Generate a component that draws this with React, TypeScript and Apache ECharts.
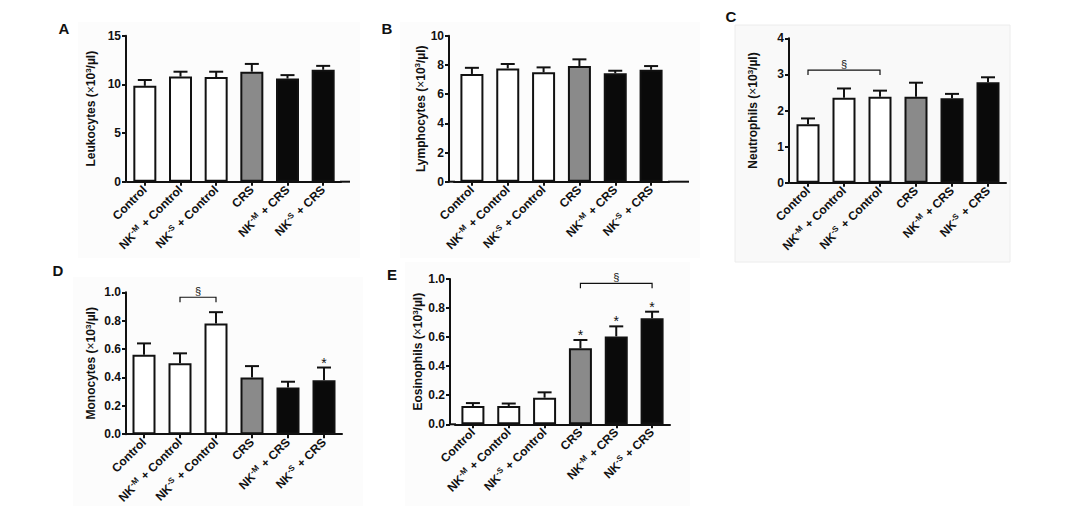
import React, { useEffect, useRef } from "react";
import * as echarts from "echarts";

const categories = ["Control", "NK^-M + Control", "NK^-S + Control", "CRS", "NK^-M + CRS", "NK^-S + CRS"];
const barColors = ["#ffffff", "#ffffff", "#ffffff", "#8a8a8a", "#0a0a0a", "#0a0a0a"];

const leukocytes = [9.85, 10.8, 10.75, 11.3, 10.6, 11.5];
const leukocytesErr = [0.6, 0.5, 0.55, 0.8, 0.35, 0.4];
const lymphocytes = [7.38, 7.76, 7.49, 7.92, 7.42, 7.67];
const lymphocytesErr = [0.42, 0.3, 0.34, 0.46, 0.18, 0.25];
const neutrophils = [1.62, 2.35, 2.38, 2.38, 2.34, 2.78];
const neutrophilsErr = [0.16, 0.26, 0.17, 0.39, 0.12, 0.14];
const monocytes = [0.56, 0.5, 0.78, 0.4, 0.33, 0.38];
const monocytesErr = [0.08, 0.07, 0.08, 0.08, 0.04, 0.09];
const eosinophils = [0.126, 0.126, 0.183, 0.523, 0.605, 0.73];
const eosinophilsErr = [0.02, 0.017, 0.037, 0.057, 0.069, 0.045];

// significance marks: [fromIndex, toIndex, level]
const neutrophilsBracket = [[0, 2, 3.12]];
const monocytesBracket = [[1, 2, 0.965]];
const eosinophilsBracket = [[3, 5, 0.97]];
const monocytesStars = [5];
const eosinophilsStars = [3, 4, 5];

const FONT = "'Liberation Sans', Arial, Helvetica, sans-serif";

const panels = [
  { letter: "A", name: "Leukocytes", values: leukocytes, err: leukocytesErr, max: 15, interval: 5, dec: 0,
    left: 127, top: 35.7, width: 214, height: 146, offset: 1, nameGap: 28, brackets: [], stars: [] },
  { letter: "B", name: "Lymphocytes", values: lymphocytes, err: lymphocytesErr, max: 10, interval: 2, dec: 0,
    left: 454, top: 35.7, width: 215, height: 146, offset: 5, nameGap: 20, brackets: [], stars: [] },
  { letter: "C", name: "Neutrophils", values: neutrophils, err: neutrophilsErr, max: 4, interval: 1, dec: 0,
    left: 790, top: 38.3, width: 216, height: 144.4, offset: 1, nameGap: 29, brackets: neutrophilsBracket, stars: [] },
  { letter: "D", name: "Monocytes", values: monocytes, err: monocytesErr, max: 1, interval: 0.2, dec: 1,
    left: 126, top: 292.3, width: 216, height: 145.4, offset: 0, nameGap: 28, brackets: monocytesBracket, stars: monocytesStars },
  { letter: "E", name: "Eosinophils", values: eosinophils, err: eosinophilsErr, max: 1, interval: 0.2, dec: 1,
    left: 455, top: 279, width: 215, height: 145.3, offset: 5, nameGap: 23, brackets: eosinophilsBracket, stars: eosinophilsStars },
];

const letterPos = [
  [64, 28], [387, 28], [731, 16], [58, 270], [392, 274],
];

const fmtCat = (s: string) => s.replace(/\^(-[MS])/, "{sup|$1}");

export default function App() {
  const ref = useRef<HTMLDivElement>(null);
  useEffect(() => {
    if (!ref.current) return;
    const chart = echarts.init(ref.current, null, { renderer: "svg" });
    const ink = "#111";

    const grid = panels.map((p) => ({ left: p.left, top: p.top, width: p.width, height: p.height }));
    const xAxis = panels.map((p, k) => ({
      type: "category",
      gridIndex: k,
      data: categories,
      axisLine: { show: true, lineStyle: { color: ink, width: 2 } },
      axisTick: { show: true, alignWithLabel: true, length: 4, lineStyle: { color: ink, width: 2 } },
      axisLabel: {
        interval: 0, rotate: 45, margin: 6, fontSize: 12, fontWeight: "bold", color: ink, fontFamily: FONT,
        formatter: (v: string) => fmtCat(v),
        rich: { sup: { fontSize: 8, fontWeight: "bold", color: ink, fontFamily: FONT, verticalAlign: "top", padding: [0, 1, 6, 0] } },
      },
      splitLine: { show: false },
    }));
    const yAxis = panels.map((p, k) => ({
      type: "value",
      gridIndex: k,
      min: 0,
      max: p.max,
      interval: p.interval,
      offset: p.offset,
      axisLine: { show: true, lineStyle: { color: ink, width: 2 } },
      axisTick: { show: true, length: 4, lineStyle: { color: ink, width: 2 } },
      splitLine: { show: false },
      axisLabel: {
        margin: 5, fontSize: 12, fontWeight: "bold", color: ink, fontFamily: FONT,
        formatter: (v: number) => v.toFixed(p.dec),
      },
      name: p.name + " ({x|×}10{sup|3}/µl)",
      nameLocation: "middle",
      nameRotate: 90,
      nameGap: p.nameGap,
      nameTextStyle: {
        fontSize: 12, fontWeight: "bold", color: ink, fontFamily: FONT,
        rich: {
          sup: { fontSize: 8, fontWeight: "bold", color: ink, fontFamily: FONT, verticalAlign: "top", padding: [0, 0, 6, 0] },
          x: { fontSize: 12, fontWeight: "normal", color: ink, fontFamily: FONT },
        },
      },
    }));

    const series: any[] = [];
    panels.forEach((p, k) => {
      series.push({
        type: "bar",
        xAxisIndex: k,
        yAxisIndex: k,
        barWidth: 23,
        data: p.values.map((v, i) => ({
          value: v,
          itemStyle: { color: barColors[i], borderColor: ink, borderWidth: 2 },
        })),
        z: 2,
      });
      series.push({
        type: "custom",
        xAxisIndex: k,
        yAxisIndex: k,
        z: 3,
        clip: false,
        data: p.values.map((v, i) => [i, v, v + p.err[i]]),
        renderItem: (params: any, api: any) => {
          const i = api.value(0);
          const a = api.coord([i, api.value(1)]);
          const b = api.coord([i, api.value(2)]);
          return {
            type: "group",
            children: [
              { type: "line", shape: { x1: a[0], y1: a[1], x2: b[0], y2: b[1] }, style: { stroke: ink, lineWidth: 2 } },
              { type: "line", shape: { x1: b[0] - 7, y1: b[1], x2: b[0] + 7, y2: b[1] }, style: { stroke: ink, lineWidth: 2 } },
            ],
          };
        },
      });
      if (p.brackets.length) {
        series.push({
          type: "custom",
          xAxisIndex: k,
          yAxisIndex: k,
          z: 3,
          clip: false,
          data: p.brackets,
          renderItem: (params: any, api: any) => {
            const a = api.coord([api.value(0), api.value(2)]);
            const b = api.coord([api.value(1), api.value(2)]);
            return {
              type: "group",
              children: [
                { type: "polyline", shape: { points: [[a[0], a[1] + 5], [a[0], a[1]], [b[0], b[1]], [b[0], b[1] + 5]] },
                  style: { stroke: ink, lineWidth: 1.2, fill: "none" } },
                { type: "text", x: (a[0] + b[0]) / 2, y: a[1] - 6,
                  style: { text: "§", fill: ink, font: "11px " + FONT, align: "center", verticalAlign: "middle" } },
              ],
            };
          },
        });
      }
      if (p.stars.length) {
        series.push({
          type: "custom",
          xAxisIndex: k,
          yAxisIndex: k,
          z: 3,
          clip: false,
          data: p.stars.map((i) => [i, p.values[i] + p.err[i]]),
          renderItem: (params: any, api: any) => {
            const c = api.coord([api.value(0), api.value(1)]);
            return {
              type: "text", x: c[0], y: c[1] - 5,
              style: { text: "*", fill: ink, font: "14px " + FONT, align: "center", verticalAlign: "middle" },
            };
          },
        });
      }
    });

    const graphic: any[] = [
      { type: "rect", shape: { x: 78, y: 22, width: 282, height: 236 }, style: { fill: "#fcfcfc" }, z: -10 },
      { type: "rect", shape: { x: 400, y: 22, width: 300, height: 236 }, style: { fill: "#fcfcfc" }, z: -10 },
      { type: "rect", shape: { x: 735, y: 25, width: 275, height: 237 }, style: { fill: "#f9f9f9", stroke: "#ececec", lineWidth: 1 }, z: -10 },
      { type: "rect", shape: { x: 73, y: 277, width: 290, height: 229 }, style: { fill: "#fcfcfc" }, z: -10 },
      { type: "rect", shape: { x: 405, y: 262, width: 285, height: 244 }, style: { fill: "#fcfcfc" }, z: -10 },
      // x-axis line extensions
      { type: "line", shape: { x1: 340, y1: 181.7, x2: 350, y2: 181.7 }, style: { stroke: ink, lineWidth: 2 } },
      { type: "line", shape: { x1: 448, y1: 181.7, x2: 455, y2: 181.7 }, style: { stroke: ink, lineWidth: 2 } },
      { type: "line", shape: { x1: 668, y1: 181.7, x2: 689, y2: 181.7 }, style: { stroke: ink, lineWidth: 2 } },
      { type: "line", shape: { x1: 449, y1: 424.3, x2: 456, y2: 424.3 }, style: { stroke: ink, lineWidth: 2 } },
      ...panels.map((p, k) => ({
        type: "text", x: letterPos[k][0], y: letterPos[k][1],
        style: { text: p.letter, fill: ink, font: "bold 15px " + FONT, align: "center", verticalAlign: "middle" },
      })),
    ];

    chart.setOption({
      animation: false,
      backgroundColor: "#ffffff",
      grid,
      xAxis,
      yAxis,
      series,
      graphic,
    });
    return () => chart.dispose();
  }, []);
  return <div ref={ref} style={{ position: "absolute", left: 0, top: 0, width: 1079, height: 506 }} />;
}
